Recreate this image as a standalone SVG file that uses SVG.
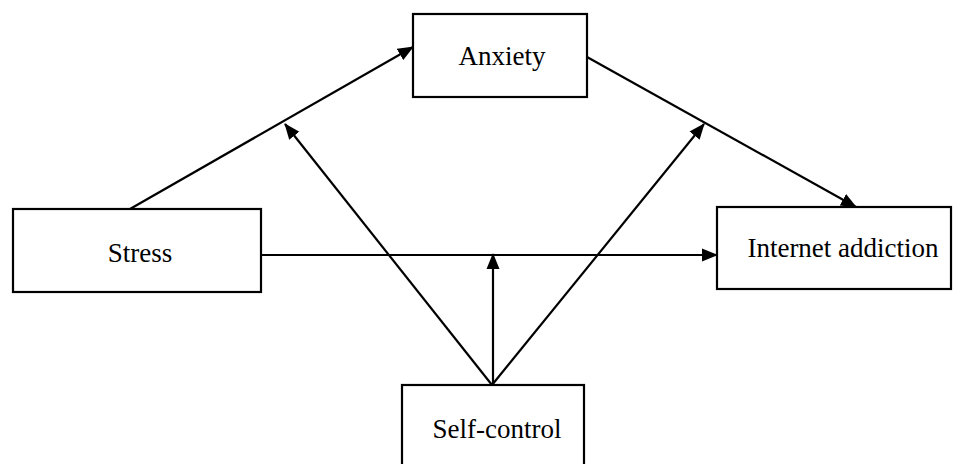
<svg xmlns="http://www.w3.org/2000/svg" width="953" height="464" viewBox="0 0 953 464">
<defs>
<marker id="ah" markerWidth="16" markerHeight="14" refX="15" refY="7" orient="auto" markerUnits="userSpaceOnUse">
<path d="M0,0.5 L16,7 L0,13.5 Z" fill="#000"/>
</marker>
<style>
.box{fill:#fff;stroke:#000;stroke-width:2.2}
.lbl{font-family:"Liberation Serif","Times New Roman",serif;font-size:27px;fill:#000;text-anchor:middle}
.c{stroke:#000;stroke-width:2.2;fill:none;marker-end:url(#ah)}
</style>
</defs>
<rect width="953" height="464" fill="#fff"/>
<g id="connectors">
<line class="c" x1="130" y1="209" x2="413" y2="47"/>
<line class="c" x1="587" y1="57" x2="856" y2="207"/>
<line class="c" x1="261" y1="255" x2="717" y2="255"/>
<line class="c" x1="492" y1="385" x2="285" y2="124"/>
<line class="c" x1="492" y1="385" x2="704" y2="124"/>
<line class="c" x1="493" y1="385" x2="493" y2="254"/>
</g>
<g id="anxiety">
<rect class="box" x="413" y="14" width="174" height="83"/>
<text class="lbl" x="502" y="65">Anxiety</text>
</g>
<g id="stress">
<rect class="box" x="13" y="209" width="248" height="83"/>
<text class="lbl" x="140" y="262">Stress</text>
</g>
<g id="internet">
<rect class="box" x="717" y="207" width="234" height="82"/>
<text class="lbl" x="843" y="257">Internet addiction</text>
</g>
<g id="selfcontrol">
<rect class="box" x="402" y="385" width="182" height="90"/>
<text class="lbl" x="497" y="438">Self-control</text>
</g>
</svg>
